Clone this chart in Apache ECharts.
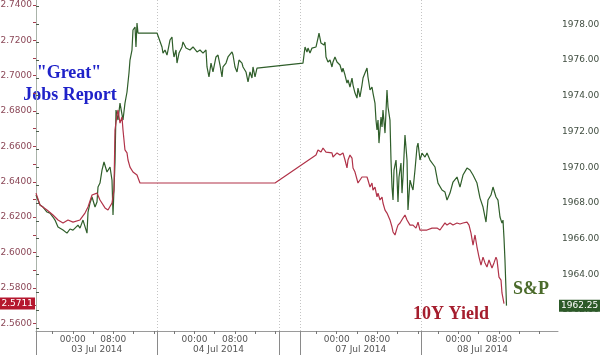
<!DOCTYPE html>
<html>
<head>
<meta charset="utf-8">
<script src="https://cdn.jsdelivr.net/npm/echarts@6/dist/echarts.min.js"></script>
<style>html,body{margin:0;padding:0;background:#fff}#c{width:600px;height:355px}</style>
</head>
<body>
<div id="c"></div>
<script>
// Time axis: chart hours from the start of the 03 Jul session (weekend compressed)
const daySegments = [0, 24, 52.07, 76.07];   // start of each displayed day session
const dayLabels = ['03 Jul 2014', '04 Jul 2014', '07 Jul 2014', '08 Jul 2014'];
const hourLabels = ['00:00', '08:00'];
const hourOffsets = [7.25, 15.25];
const axisMaxHours = 102.96;

// S&P 500 futures
const spxTime = [0,0.79,1.38,2.17,2.76,3.35,3.75,4.34,5.33,6.11,6.71,7.30,7.69,8.28,8.68,9.07,9.27,9.66,10.06,10.26,10.65,11.05,11.64,12.03,12.23,12.62,13.02,13.41,14.00,14.60,14.99,15.19,15.58,15.78,16.17,16.57,17.16,17.55,17.95,18.34,18.54,18.93,19.13,19.53,19.72,19.92,20.12,23.87,
24.06,24.85,25.05,25.44,25.84,26.04,26.43,26.82,27.02,27.22,27.61,27.81,28.21,28.80,28.99,29.59,29.98,30.37,30.97,31.36,31.76,32.35,32.94,33.53,33.73,34.12,34.52,34.91,35.50,35.90,36.29,36.69,36.88,37.48,37.87,38.66,38.86,39.25,39.65,40.04,40.63,40.83,41.42,41.82,42.21,42.60,42.80,43.20,43.59,52.66,
53.06,53.45,53.65,54.04,54.44,54.63,55.23,55.62,55.82,56.21,56.41,56.81,57.00,57.20,57.59,57.99,58.38,58.58,58.97,59.37,59.96,60.36,60.55,60.95,61.34,61.54,61.93,62.33,62.53,62.92,63.31,63.51,63.90,64.30,64.50,64.89,65.29,65.48,65.88,66.27,66.47,66.86,67.06,67.26,67.46,67.65,68.05,68.25,68.44,68.84,69.23,69.43,69.82,70.02,70.22,70.42,70.61,71.01,71.20,71.40,71.60,71.99,72.19,72.39,72.78,73.18,73.37,73.77,74.16,74.36,74.75,75.15,75.35,75.74,76.13,
76.73,77.12,77.71,78.70,79.29,80.08,80.67,81.07,81.66,82.25,83.04,83.63,84.22,85.01,85.60,86.20,86.98,87.58,88.17,88.76,89.15,89.74,90.14,90.73,91.12,91.52,91.91,92.11,92.31,92.50,92.70,92.80];
const spxValue = [1968.44,1967.88,1967.77,1967.49,1967.43,1967.21,1967.04,1966.65,1966.48,1966.31,1966.54,1966.48,1966.37,1966.76,1966.59,1966.48,1967.04,1966.93,1966.31,1967.49,1967.99,1968.33,1967.77,1968.05,1968.89,1969.11,1969.84,1970.29,1969.73,1970.01,1969.28,1967.32,1970.23,1973.20,1972.64,1973.59,1972.64,1973.59,1974.21,1975.27,1976.00,1976.56,1977.68,1977.85,1976.73,1978.07,1977.51,1977.51,
1977.51,1976.73,1976.39,1976.56,1976.28,1976.56,1977.12,1977.29,1976.56,1976.17,1976.56,1975.83,1976.39,1976.73,1977.01,1976.67,1976.73,1976.56,1976.73,1976.67,1976.45,1976.56,1976.39,1976.56,1975.61,1975.05,1975.83,1975.33,1976.17,1976.28,1975.72,1975.05,1975.61,1975.83,1976.17,1976.45,1976.28,1975.61,1975.33,1976.00,1975.83,1975.61,1975.33,1974.77,1975.33,1974.99,1975.61,1975.05,1975.55,1975.83,
1976.73,1976.45,1976.67,1976.39,1976.67,1976.56,1976.73,1977.23,1977.51,1976.95,1977.01,1976.84,1977.01,1976.17,1975.89,1976.00,1975.61,1975.89,1976.17,1975.89,1975.72,1975.33,1975.55,1975.16,1974.71,1974.88,1974.49,1974.99,1974.60,1974.15,1973.87,1974.43,1973.93,1974.60,1974.99,1975.27,1975.55,1975.05,1974.32,1974.49,1974.15,1973.59,1972.64,1972.08,1972.64,1971.35,1972.81,1972.25,1973.20,1971.91,1974.32,1973.37,1972.64,1970.40,1968.89,1968.16,1969.84,1970.40,1969.45,1968.05,1969.45,1970.23,1968.55,1969.45,1971.80,1970.40,1967.60,1969.28,1968.89,1968.72,1969.84,1971.13,1971.35,1970.40,1970.79,
1970.57,1970.79,1970.40,1970.01,1969.11,1968.72,1968.61,1968.16,1968.55,1969.17,1969.45,1968.89,1969.56,1969.95,1969.84,1969.56,1969.11,1968.27,1967.77,1966.93,1968.16,1968.44,1968.89,1968.33,1968.16,1967.21,1966.87,1967.04,1966.03,1964.80,1963.12,1962.25];

// US 10Y yield
const yldTime = [0,0.79,2.17,3.35,4.34,5.33,6.31,7.30,8.68,9.66,10.26,11.05,12.03,12.62,13.61,14.20,14.99,15.38,15.58,15.98,16.17,16.57,16.96,17.16,17.55,17.95,18.15,18.54,19.13,19.92,20.51,47.14,
55.23,55.62,56.21,56.61,57.20,57.59,58.38,58.58,59.37,59.96,60.55,60.95,61.34,61.54,61.93,62.33,62.53,62.92,63.31,63.51,63.90,64.30,65.29,65.48,65.88,66.27,66.47,66.86,67.26,67.46,67.85,68.25,68.44,68.84,69.23,69.43,69.82,70.22,70.42,70.81,71.20,71.40,71.80,72.39,72.78,73.18,73.37,73.77,74.16,74.36,74.95,75.35,75.74,76.13,
77.12,78.11,79.09,79.69,80.08,80.67,81.07,81.66,82.25,83.04,83.63,84.22,85.01,85.41,85.80,86.20,86.59,86.98,87.38,87.77,88.17,88.56,88.95,89.35,89.94,90.33,90.73,90.93,91.32,91.72,91.91,92.31];
const yldValue = [2.6336,2.6269,2.6240,2.6212,2.6184,2.6167,2.6184,2.6172,2.6184,2.6223,2.6257,2.6325,2.6336,2.6297,2.6252,2.6240,2.6280,2.6353,2.6693,2.6778,2.6806,2.6732,2.6766,2.6693,2.6580,2.6563,2.6523,2.6483,2.6455,2.6438,2.6393,2.6393,
2.6551,2.6580,2.6568,2.6591,2.6568,2.6563,2.6563,2.6540,2.6563,2.6551,2.6563,2.6523,2.6478,2.6523,2.6551,2.6534,2.6478,2.6455,2.6450,2.6393,2.6382,2.6427,2.6427,2.6410,2.6370,2.6393,2.6353,2.6370,2.6314,2.6336,2.6297,2.6314,2.6280,2.6240,2.6223,2.6229,2.6184,2.6144,2.6116,2.6099,2.6138,2.6155,2.6167,2.6195,2.6212,2.6184,2.6195,2.6155,2.6144,2.6155,2.6138,2.6172,2.6127,2.6116,
2.6127,2.6138,2.6138,2.6127,2.6144,2.6167,2.6155,2.6167,2.6155,2.6167,2.6161,2.6167,2.6172,2.6155,2.6110,2.6042,2.6099,2.6031,2.5974,2.5929,2.5974,2.5941,2.5918,2.5958,2.5912,2.5941,2.5974,2.5958,2.5861,2.5844,2.5771,2.5711];

// Tick labels
const yieldTicks = [2.56,2.58,2.60,2.62,2.64,2.66,2.68,2.70,2.72,2.74];
const yieldMinorTicks = [2.56,2.57,2.58,2.59,2.60,2.61,2.62,2.63,2.64,2.65,2.66,2.67,2.68,2.69,2.70,2.71,2.72,2.73,2.74];
const spxTicks = [1962,1964,1966,1968,1970,1972,1974,1976,1978];
const spxMinorTicks = [1961,1962,1963,1964,1965,1966,1967,1968,1969,1970,1971,1972,1973,1974,1975,1976,1977,1978,1979];

const yldRange = [2.5556, 2.7428];
const spxRange = [1960.83, 1979.36];

// derived axis helpers
const hourTickVals = [], hourLabelVals = [], hourLabelTexts = [];
daySegments.forEach(s => {
  [3.25, 7.25, 11.25, 15.25, 19.25, 23.25].forEach(o => hourTickVals.push(s + o));
  hourOffsets.forEach((o, i) => { hourLabelVals.push(s + o); hourLabelTexts.push(hourLabels[i]); });
});
const dayCenters = daySegments.map(s => s + 12);
const boundaries = daySegments.concat([48]).sort((a, b) => a - b);
const innerBoundaries = boundaries.filter(b => b > 0);
function lookup(vals, texts, v) {
  const i = vals.findIndex(t => Math.abs(t - v) < 1e-6);
  return i >= 0 ? texts[i] : '';
}
const spxData = spxTime.map((t, i) => [t, spxValue[i]]);
const yldData = yldTime.map((t, i) => [t, yldValue[i]]);
const lastYld = yldValue[yldValue.length - 1];
const lastSpx = spxValue[spxValue.length - 1];

const FONT = 'DejaVu Sans';
const baseX = { type: 'value', min: 0, max: axisMaxHours, position: 'bottom', splitLine: { show: false } };

const chart = echarts.init(document.getElementById('c'), null, { renderer: 'canvas' });
chart.setOption({
  animation: false,
  backgroundColor: '#ffffff',
  grid: { left: 36, right: 42, top: 0, bottom: 24, outerBoundsMode: 'none', containLabel: false },
  xAxis: [
    Object.assign({}, baseX, {
      axisLine: { show: true, lineStyle: { color: '#9a9a9a', width: 1 } },
      axisTick: { show: true, length: 3, customValues: hourTickVals, lineStyle: { color: '#777' } },
      axisLabel: { show: true, customValues: hourLabelVals, margin: 4, fontFamily: FONT, fontSize: 9, color: '#555',
        formatter: v => lookup(hourLabelVals, hourLabelTexts, v) }
    }),
    Object.assign({}, baseX, {
      axisLine: { show: false },
      axisTick: { show: true, length: 24, customValues: boundaries, lineStyle: { color: '#8a8a8a', width: 1 } },
      axisLabel: { show: true, customValues: dayCenters, margin: 14, fontFamily: FONT, fontSize: 9, color: '#555',
        formatter: v => lookup(dayCenters, dayLabels, v) }
    }),
    Object.assign({}, baseX, {
      axisLine: { show: false },
      axisTick: { show: true, inside: true, length: 331, customValues: innerBoundaries,
        lineStyle: { color: '#c4c4c4', width: 1, type: [1, 2] } },
      axisLabel: { show: false }
    })
  ],
  yAxis: [
    { type: 'value', position: 'left', min: yldRange[0], max: yldRange[1], splitLine: { show: false },
      axisLine: { show: true, lineStyle: { color: '#c98591', width: 1 } },
      axisTick: { show: true, length: 3, customValues: yieldMinorTicks, lineStyle: { color: '#a33b4c' } },
      axisLabel: { customValues: yieldTicks, margin: 4, fontFamily: FONT, fontSize: 9, color: '#8b4757',
        formatter: v => v.toFixed(4) } },
    { type: 'value', position: 'right', min: spxRange[0], max: spxRange[1], splitLine: { show: false },
      axisLine: { show: true, lineStyle: { color: '#a9b3a9', width: 1 } },
      axisTick: { show: true, length: 3, customValues: spxMinorTicks, lineStyle: { color: '#4d5d4d' } },
      axisLabel: { customValues: spxTicks, margin: 4, fontFamily: FONT, fontSize: 9, color: '#3f4c3f',
        formatter: v => v.toFixed(2) } },
    { type: 'value', position: 'left', min: yldRange[0], max: yldRange[1], splitLine: { show: false },
      axisLine: { show: false }, axisTick: { show: false },
      axisLabel: { customValues: [lastYld], margin: 1, fontFamily: FONT, fontSize: 9, color: '#ffffff',
        backgroundColor: '#b5172e', padding: [2, 2, 1, 2], formatter: v => v.toFixed(4) } },
    { type: 'value', position: 'right', min: spxRange[0], max: spxRange[1], splitLine: { show: false },
      axisLine: { show: false }, axisTick: { show: false },
      axisLabel: { customValues: [lastSpx], margin: 1, fontFamily: FONT, fontSize: 9, color: '#ffffff',
        backgroundColor: '#2c5a28', padding: [2, 2, 1, 2], formatter: v => v.toFixed(2) } }
  ],
  series: [
    { name: 'S&P', type: 'line', xAxisIndex: 0, yAxisIndex: 1, data: spxData, showSymbol: false, symbol: 'none',
      lineStyle: { color: '#2f5e2a', width: 1.2 }, z: 3 },
    { name: '10Y Yield', type: 'line', xAxisIndex: 0, yAxisIndex: 0, data: yldData, showSymbol: false, symbol: 'none',
      lineStyle: { color: '#b13349', width: 1.2 }, z: 4 }
  ],
  graphic: [
    { type: 'text', x: 69, y: 73, style: { text: '"Great"', font: 'bold 18px "Liberation Serif"', fill: '#1f22c9', align: 'center', verticalAlign: 'middle' } },
    { type: 'text', x: 70, y: 95, style: { text: 'Jobs Report', font: 'bold 18px "Liberation Serif"', fill: '#1f22c9', align: 'center', verticalAlign: 'middle' } },
    { type: 'text', x: 531, y: 289, style: { text: 'S&P', font: 'bold 18px "Liberation Serif"', fill: '#4b6b2b', align: 'center', verticalAlign: 'middle' } },
    { type: 'text', x: 451, y: 314, style: { text: '10Y Yield', font: 'bold 18px "Liberation Serif"', fill: '#a51d2d', align: 'center', verticalAlign: 'middle' } }
  ]
});
</script>
</body>
</html>
